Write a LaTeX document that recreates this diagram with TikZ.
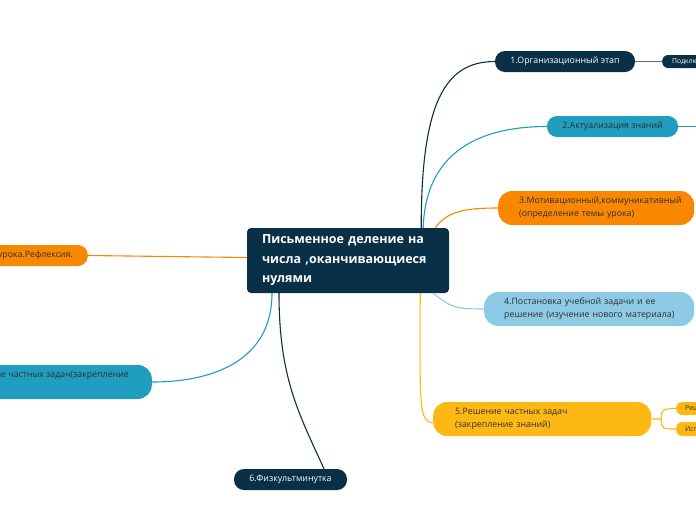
\documentclass[tikz,border=0pt]{standalone}
\usepackage{fontspec}
\setmainfont{Open Sans}
\definecolor{navy}{HTML}{0A3048}
\definecolor{teal}{HTML}{1F9EC0}
\definecolor{orng}{HTML}{F98700}
\definecolor{lblue}{HTML}{8DCAE6}
\definecolor{yell}{HTML}{FDB813}
\definecolor{slate}{HTML}{5A7285}
\definecolor{dtext}{HTML}{2F2F2F}
\tikzset{
  pill/.style={rectangle, rounded corners=10pt, inner sep=0pt, font=\fontsize{8.8}{13}\selectfont},
  pill2/.style={pill, rounded corners=14pt, align=left, anchor=west, inner xsep=0pt},
  small/.style={rectangle, rounded corners=6pt, inner sep=0pt, font=\fontsize{6.8}{8}\selectfont, anchor=west, minimum height=13pt, text width=90pt, align=left},
  link/.style={line width=1.1pt},
}
\begin{document}
\begin{tikzpicture}[x=1pt,y=-1pt]
\fill[white] (0,0) rectangle (696,520);
\clip (0,0) rectangle (696,520);
% central
\node[fill=navy, rounded corners=4pt, minimum width=202pt, minimum height=65pt, text width=202pt, align=left, inner sep=0pt, text=white, font=\bfseries\fontsize{12.5}{19.5}\selectfont] (c) at (348,260.5) {\hspace*{15pt}Письменное деление на\\\hspace*{15pt}числа ,оканчивающиеся\\\hspace*{15pt}нулями};
% right branches
\node[pill, fill=navy, text=white, minimum width=140pt, minimum height=21pt] (n1) at (565,61.5) {1.Организационный этап};
\node[small, fill=navy, text=white] (n1a) at (662,61.5) {\hspace*{10pt}Подключение к уроку};
\node[pill, fill=teal, text=dtext, minimum width=131pt, minimum height=21pt] (n2) at (612.5,126.5) {2.Актуализация знаний};
\coordinate (n2a) at (705,126.5);
\node[pill2, fill=orng, text=dtext, minimum width=196pt, minimum height=34pt, text width=196pt] (n3) at (498,208) {\hspace*{21pt}3.Мотивационный,коммуникативный\\\hspace*{21pt}(определение темы урока)};
\node[pill2, fill=lblue, text=dtext, minimum width=210pt, minimum height=34pt, text width=210pt] (n4) at (484,309) {\hspace*{20pt}4.Постановка учебной задачи и ее\\\hspace*{20pt}решение (изучение нового материала)};
\node[pill2, fill=yell, text=dtext, minimum width=218pt, minimum height=34pt, text width=218pt] (n5) at (433,419) {\hspace*{22pt}5.Решение частных задач\\\hspace*{22pt}(закрепление знаний)};
\node[small, fill=yell, text=dtext] (n5a) at (676,408.5) {\hspace*{9pt}Решение задач};
\node[small, fill=yell, text=dtext, minimum height=14pt] (n5b) at (676,429) {\hspace*{9pt}Использование};
\node[pill, fill=navy, text=white, minimum width=113pt, minimum height=21pt] (n6) at (290.5,479.5) {6.Физкультминутка};
% left branches
\node[pill, fill=orng, text=dtext, minimum height=21pt, inner xsep=15pt, anchor=east] (n8) at (88,255.5) {8.Итог урока.Рефлексия.};
\node[pill, rounded corners=14pt, fill=teal, text=dtext, minimum height=34pt, inner xsep=23pt, anchor=east, align=left] (n7) at (152,382) {7.Решение частных задач(закрепление\\знаний)};
% connectors
\draw[link, navy] ([xshift=-28pt]c.north east) .. controls +(0,-125) and +(-50,0) .. (n1.west);
\draw[link, teal] ([xshift=-26pt]c.north east) .. controls +(2,-70) and +(-75,0) .. (n2.west);
\draw[link, orng] ([xshift=-14pt]c.north east) .. controls +(12,-16) and +(-35,0) .. (n3.west);
\draw[link, lblue] ([xshift=-16pt]c.south east) .. controls +(18,14) and +(-30,0) .. (n4.west);
\draw[link, yell] ([xshift=-29pt]c.south east) .. controls +(0,110) and +(-15,-2) .. ([yshift=-4pt]n5.west);
\draw[link, navy] ([xshift=-69pt]c.south) .. controls +(0,85) and +(-25,-55) .. ([xshift=33.5pt]n6.north);
\draw[link, teal] ([xshift=-76pt]c.south) .. controls +(0,65) and +(65,0) .. (n7.east);
\draw[link, orng] ([yshift=3pt]c.west) -- (n8.east);
\draw[link, slate] (n1.east) -- (n1a.west);
\draw[link, teal] (n2.east) -- (n2a);
\coordinate (j5) at (661,419);
\draw[link, yell] (n5.east) -- (j5) .. controls (662,409) .. (n5a.west);
\draw[link, yell] (j5) .. controls (662,429) .. (n5b.west);
\end{tikzpicture}
\end{document}
